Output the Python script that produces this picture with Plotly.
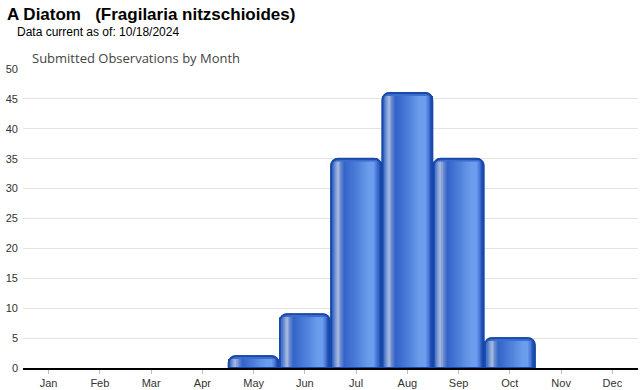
import plotly.graph_objects as go

months = ["Jan", "Feb", "Mar", "Apr", "May", "Jun", "Jul", "Aug", "Sep", "Oct", "Nov", "Dec"]
observations = [0, 0, 0, 0, 2, 9, 35, 46, 35, 5, 0, 0]
y_ticks = [0, 5, 10, 15, 20, 25, 30, 35, 40, 45, 50]

title_text = "A Diatom   (Fragilaria nitzschioides)"
subtitle_text = "Data current as of: 10/18/2024"
chart_title = "Submitted Observations by Month"

BAR_W = 0.975
EDGE = "#1848a8"

# horizontal colour stops across each bar (style only)
stops = [
    (0.00, (0x1a, 0x4a, 0xa8)),
    (0.04, (0x3d, 0x6c, 0xcc)),
    (0.10, (0x80, 0x9c, 0xd2)),
    (0.15, (0xaa, 0xbd, 0xe0)),
    (0.20, (0x6a, 0x8a, 0xd0)),
    (0.28, (0x34, 0x64, 0xc8)),
    (0.50, (0x4a, 0x7c, 0xd8)),
    (0.75, (0x6a, 0x9c, 0xeb)),
    (0.86, (0x6d, 0x9e, 0xee)),
    (0.93, (0x48, 0x78, 0xd8)),
    (0.97, (0x24, 0x54, 0xb8)),
    (1.00, (0x1a, 0x4a, 0xa8)),
]


def colour_at(f):
    for (a, ca), (b, cb) in zip(stops[:-1], stops[1:]):
        if a <= f <= b:
            t = (f - a) / (b - a) if b > a else 0
            c = [round(ca[i] + (cb[i] - ca[i]) * t) for i in range(3)]
            return "rgb(%d,%d,%d)" % tuple(c)
    return "rgb(26,74,168)"


N_STRIPES = 48
x_idx = list(range(len(months)))
bar_y = [v if v > 0 else None for v in observations]
stripe_y = [max(v - 0.5, 0) if v > 0 else None for v in observations]

fig = go.Figure()
fig.add_trace(go.Bar(
    x=x_idx, y=bar_y, width=BAR_W,
    marker=dict(color="#3c6cce", line=dict(color=EDGE, width=1.5), cornerradius=7),
    hoverinfo="skip", showlegend=False,
))
for k in range(N_STRIPES):
    s0 = k / N_STRIPES
    s1 = (k + 1) / N_STRIPES
    fig.add_trace(go.Bar(
        x=x_idx, y=stripe_y, width=(s1 - s0) * BAR_W * 1.02,
        offset=-BAR_W / 2 + s0 * BAR_W,
        marker=dict(color=colour_at((s0 + s1) / 2), line=dict(width=0)),
        hoverinfo="skip", showlegend=False,
    ))
# redraw rounded outline on top
fig.add_trace(go.Bar(
    x=x_idx, y=bar_y, width=BAR_W,
    marker=dict(color="rgba(0,0,0,0)", line=dict(color=EDGE, width=1.8), cornerradius=7),
    hoverinfo="skip", showlegend=False,
))

fig.update_layout(
    width=640, height=390,
    margin=dict(l=23, r=2, t=69, b=22, autoexpand=False),
    paper_bgcolor="white", plot_bgcolor="white",
    barmode="overlay",
    font=dict(family="Arial, Liberation Sans, sans-serif", size=11, color="#333333"),
    xaxis=dict(
        range=[-0.5, 11.5], tickmode="array", tickvals=x_idx, ticktext=months,
        showgrid=False, showline=True, linecolor="black", linewidth=1.5,
        ticks="outside", ticklen=4, tickcolor="#bbbbbb", tickfont=dict(size=11, color="#333333"),
        zeroline=False, fixedrange=True,
    ),
    yaxis=dict(
        range=[0, 50], tickmode="array", tickvals=y_ticks,
        showgrid=True, gridcolor="#e3e3e3", gridwidth=1, zeroline=False,
        tickfont=dict(size=11, color="#333333"), ticks="", ticklabelstandoff=4,
        fixedrange=True,
    ),
    annotations=[
        dict(text="<b>" + title_text + "</b>", xref="paper", yref="paper",
             x=(5 - 23) / 615, y=(368 - 15) / 299, xanchor="left", yanchor="middle",
             showarrow=False, font=dict(family="Arial, Liberation Sans, sans-serif", size=17, color="black")),
        dict(text=subtitle_text, xref="paper", yref="paper",
             x=(15 - 23) / 615, y=(368 - 32) / 299, xanchor="left", yanchor="middle",
             showarrow=False, font=dict(family="Arial, Liberation Sans, sans-serif", size=12, color="black")),
        dict(text=chart_title, xref="paper", yref="paper",
             x=(30 - 23) / 615, y=(368 - 58) / 299, xanchor="left", yanchor="middle",
             showarrow=False, font=dict(family="Open Sans, sans-serif", size=13, color="#444444")),
    ],
)

fig.write_html(
    "out.html",
    config={"displayModeBar": False},
    post_script="document.body.style.margin='0';document.body.style.padding='0';",
)
